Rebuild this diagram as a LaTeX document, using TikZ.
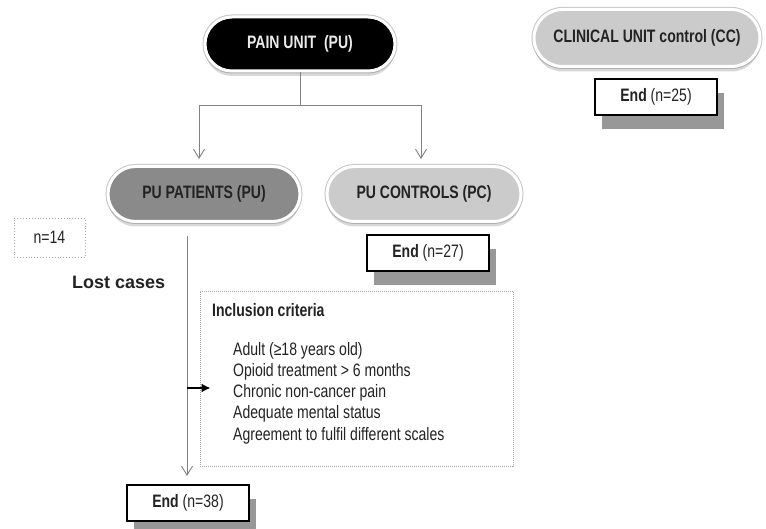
\documentclass[tikz,border=0pt]{standalone}
\usepackage{fontspec}
\setmainfont{Liberation Sans}[FakeStretch=0.78]
\newfontfamily\widefont{Liberation Sans}
\usetikzlibrary{arrows.meta,shadows,calc}
\newcommand\basefont{\fontsize{18}{21.2}\selectfont}
\definecolor{txt}{RGB}{35,35,35}
\definecolor{darkfill}{RGB}{138,138,138}
\definecolor{lightfill}{RGB}{203,203,203}
\definecolor{conncol}{RGB}{130,130,130}
\begin{document}
\begin{tikzpicture}[x=1pt,y=-1pt,
  every node/.style={text=txt, font=\basefont, inner sep=0pt},
  pill/.style={draw=white, line width=3pt, text=txt, font=\basefont\bfseries,
    preaction={draw=gray!45, line width=5pt},
    drop shadow={shadow xshift=0pt, shadow yshift=-5pt, opacity=0.3, fill=gray}},
  endbox/.style={draw=black, line width=1.3pt, fill=white, minimum width=122pt, minimum height=36pt,
    drop shadow={shadow xshift=7pt, shadow yshift=-14pt, opacity=0.5, fill=black!80}},
  conn/.style={draw=conncol, line width=0.9pt},
  vtip/.style={-{Straight Barb[length=9pt,width=11pt,line width=0.9pt]}},
  blackarrow/.style={draw=black, line width=1.6pt, -{Latex[length=9pt,width=9pt]}}
]
\fill[white] (0,0) rectangle (766,529);
\useasboundingbox (0,0) rectangle (766,529);

% pills
\node[pill, fill=black, text=white!92!black, minimum width=190pt, minimum height=54pt, rounded corners=27pt] (pain) at (300,44) {PAIN UNIT\ \ (PU)};
\node[pill, fill=lightfill, minimum width=226pt, minimum height=57pt, rounded corners=28.5pt] (cc) at (647,38) {CLINICAL UNIT control (CC)};
\node[pill, fill=darkfill, minimum width=192pt, minimum height=55pt, rounded corners=27.5pt] (pup) at (204,194) {PU PATIENTS (PU)};
\node[pill, fill=lightfill, minimum width=194pt, minimum height=55pt, rounded corners=27.5pt] (puc) at (424,194) {PU CONTROLS (PC)};

% end boxes
\node[endbox] (e25) at (656,97) {\textbf{End} (n=25)};
\node[endbox] (e27) at (428,253) {\textbf{End} (n=27)};
\node[endbox] (e38) at (188,503) {\textbf{End} (n=38)};

% lost cases
\node[draw=gray!70, dotted, line width=0.9pt, minimum width=71pt, minimum height=39pt] (n14) at (49.5,237.5) {n=14};
\node[anchor=west, font=\widefont\bfseries\fontsize{18}{21}\selectfont] (lost) at (72,282) {Lost cases};

% inclusion criteria
\node[draw=gray!70, dash pattern=on 1pt off 1pt, line width=0.9pt, minimum width=313pt, minimum height=175pt] (incl) at (356.5,378.5) {};
\node[anchor=west, font=\basefont\bfseries] (ititle) at (212,310) {Inclusion criteria};
\node[anchor=west, align=left] (items) at (233,393) {Adult (≥18 years old)\\Opioid treatment > 6 months\\Chronic non-cancer pain\\Adequate mental status\\Agreement to fulfil different scales};

% connectors
\coordinate (split) at (300,105);
\coordinate (a1) at (199,159);
\coordinate (a2) at (421,159);
\draw[conn] (pain.south) -- (split);
\draw[conn,vtip] (split) -| (a1);
\draw[conn,vtip] (split) -| (a2);
\coordinate (v0) at (187,236);
\coordinate (v1) at (187,476);
\coordinate (tap) at (187,388);
\draw[conn,vtip] (v0) -- (v1);
\draw[blackarrow] (tap) -- ($(incl.west |- tap)+(11,0)$);
\end{tikzpicture}
\end{document}
